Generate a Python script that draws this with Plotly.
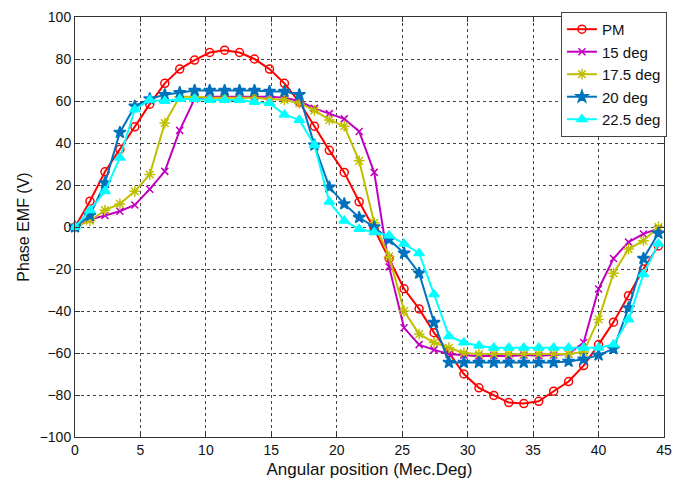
import plotly.graph_objects as go

angle = [0, 1.14, 2.29, 3.43, 4.57, 5.71, 6.86, 8.00, 9.14, 10.29,
         11.43, 12.57, 13.71, 14.86, 16.00, 17.14, 18.29, 19.43, 20.57, 21.71,
         22.86, 24.00, 25.14, 26.29, 27.43, 28.57, 29.71, 30.86, 32.00, 33.14,
         34.29, 35.43, 36.57, 37.71, 38.86, 40.00, 41.14, 42.29, 43.43, 44.57]

emf_pm = [0, 12.3, 26.3, 37, 47.7, 58.5, 68.4, 75.2, 79.5, 83.1,
          84.2, 83.1, 80, 75.2, 68.4, 59.5, 48, 36.5, 26, 12,
          -1, -15, -29.4, -39, -50.3, -59.8, -70, -76.6, -80.2, -83.6,
          -84.1, -83, -78.2, -73.6, -66, -56, -45.3, -32.7, -20, -9]

emf_15 = [0, 3.5, 5.5, 7.5, 10.5, 18, 26.5, 46, 61, 62,
          62, 62, 62, 62, 61.5, 60, 56.5, 54, 51.5, 45.5,
          26, -19, -48, -56, -58.5, -60.5, -61, -61.5, -61.3, -61.5,
          -61, -61.3, -61, -60.5, -55, -29.5, -15, -7.2, -3.3, -0.8]

emf_175 = [0, 3, 8, 11, 17, 25, 49.5, 62, 62, 61.5,
           61.5, 61.5, 61.5, 61, 60.5, 59, 55.5, 51, 48, 31.5,
           2, -14, -40, -51, -55, -57.5, -60, -60.5, -60.5, -60.5,
           -60.5, -60.5, -60.5, -60.5, -59.5, -44, -22, -10.5, -6.5, 0]

emf_20 = [0, 5.5, 21, 45, 57.5, 61, 63, 64, 65, 65,
          65, 65, 65, 64.5, 64.5, 63, 39, 19, 11, 4.5,
          0, -6, -12.5, -22, -45.5, -64.5, -64.5, -64.5, -64.5, -64.5,
          -64.5, -64.5, -64.5, -64, -63, -61, -58, -38.5, -15, -3]

emf_225 = [0, 8, 17, 33, 56, 60.5, 60, 61, 61, 60.5,
           60.5, 60.5, 59.5, 59, 53.5, 51, 39, 12, 3, -1,
           -2.5, -4, -8, -12.5, -32, -52, -55, -56.5, -57.5, -57.5,
           -57.5, -57.5, -57.5, -57.5, -57.5, -57.5, -56, -44, -22.5, -8]

series = [
    ("PM", emf_pm, "#FF0000", "circle-open", 8),
    ("15 deg", emf_15, "#BF00BF", "x-thin-open", 7),
    ("17.5 deg", emf_175, "#BFBF00", "asterisk-open", 9),
    ("20 deg", emf_20, "#0072BD", "star", 9),
    ("22.5 deg", emf_225, "#00FFFF", "triangle-up", 9),
]

fig = go.Figure()
for name, ys, color, sym, size in series:
    fig.add_trace(go.Scatter(
        x=angle, y=ys, name=name, mode="lines+markers",
        line=dict(color=color, width=2),
        marker=dict(symbol=sym, size=size, color=color,
                    line=dict(color=color, width=1.5)),
        cliponaxis=False,
    ))

axis_common = dict(
    showline=True, linecolor="#333333", linewidth=1, mirror="allticks",
    ticks="inside", ticklen=5, tickcolor="#333333",
    showgrid=True, gridcolor="#444444", griddash="dot", gridwidth=1,
    zeroline=False,
    tickfont=dict(family="Liberation Sans, Arial, sans-serif", size=14, color="#111111"),
)

fig.update_xaxes(range=[0, 45], dtick=5, tick0=0,
                 title=dict(text="Angular position (Mec.Deg)", standoff=6,
                            font=dict(family="Liberation Sans, Arial, sans-serif", size=17, color="#111111")),
                 **axis_common)
fig.update_yaxes(range=[-100, 100], dtick=20, tick0=0,
                 title=dict(text="Phase EMF (V)", standoff=6,
                            font=dict(family="Liberation Sans, Arial, sans-serif", size=16, color="#111111")),
                 **axis_common)

fig.update_layout(
    width=681, height=486,
    margin=dict(l=75, r=9, t=13, b=49),
    paper_bgcolor="white", plot_bgcolor="white",
    showlegend=True,
    legend=dict(x=1.005, y=1.012, xanchor="right", yanchor="top",
                bgcolor="white", bordercolor="#444444", borderwidth=1,
                font=dict(family="Liberation Sans, Arial, sans-serif", size=15, color="#111111"),
                itemwidth=30, tracegroupgap=0),
)

fig.write_html("out.html")
